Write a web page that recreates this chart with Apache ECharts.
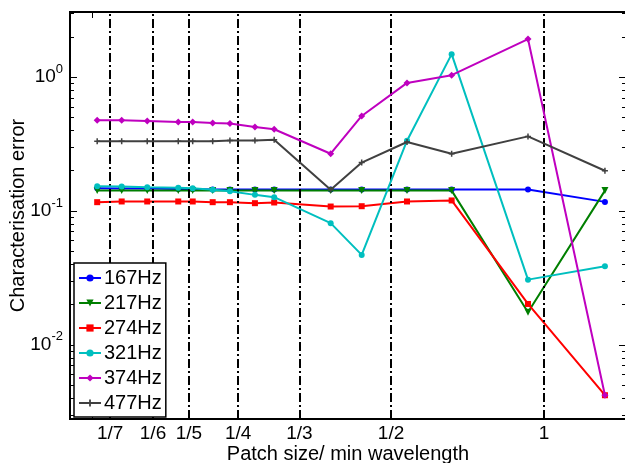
<!DOCTYPE html>
<html>
<head>
<meta charset="utf-8">
<script src="https://cdn.jsdelivr.net/npm/echarts@6/dist/echarts.min.js"></script>
<style>
  html, body { margin: 0; padding: 0; background: #fff; }
  #main { width: 625px; height: 463px; }
</style>
</head>
<body>
<div id="main"></div>
<script>
// patch size / min wavelength
const xs = [0.132, 0.1475, 0.1656, 0.1906, 0.2035, 0.2228, 0.2409, 0.2698, 0.2944, 0.3803, 0.4377, 0.5375, 0.658, 0.930, 1.318];

const names = ["167Hz", "217Hz", "274Hz", "321Hz", "374Hz", "477Hz"];
const err167 = [0.148, 0.147, 0.147, 0.146, 0.146, 0.145, 0.145, 0.145, 0.145, 0.145, 0.145, 0.145, 0.145, 0.145, 0.117];
const err217 = [0.142, 0.142, 0.142, 0.142, 0.142, 0.142, 0.142, 0.142, 0.142, 0.142, 0.142, 0.142, 0.142, 0.0175, 0.142];
const err274 = [0.1164, 0.1178, 0.1178, 0.1178, 0.1178, 0.1164, 0.1164, 0.1144, 0.1158, 0.108, 0.1086, 0.1178, 0.1199, 0.0202, 0.0042];
const err321 = [0.1534, 0.1526, 0.1508, 0.149, 0.148, 0.144, 0.1407, 0.132, 0.1269, 0.0811, 0.047, 0.335, 1.487, 0.0307, 0.0386];
const err374 = [0.476, 0.476, 0.471, 0.463, 0.463, 0.455, 0.45, 0.424, 0.408, 0.268, 0.513, 0.906, 1.035, 1.927, 0.0042];
const err477 = [0.332, 0.332, 0.332, 0.332, 0.332, 0.332, 0.337, 0.337, 0.341, 0.144, 0.23, 0.328, 0.268, 0.361, 0.2];

const xTicks = [1/7, 1/6, 1/5, 1/4, 1/3, 1/2, 1];
const xTickLabels = ["1/7", "1/6", "1/5", "1/4", "1/3", "1/2", "1"];
const xPlainTicks = [0.129];
const yMajor = [0.01, 0.1, 1];
const yMinor = [0.003, 0.004, 0.005, 0.006, 0.007, 0.008, 0.009,
  0.02, 0.03, 0.04, 0.05, 0.06, 0.07, 0.08, 0.09,
  0.2, 0.3, 0.4, 0.5, 0.6, 0.7, 0.8, 0.9, 2, 3];

const xMin = 0.1167, xMax = 1.45;
const yMin = 0.00279, yMax = 3.07;

const font = "'Liberation Sans', Arial, sans-serif";

var chartDom = document.getElementById("main");
var myChart = echarts.init(chartDom);

// tick lengths turned into factors on the log scales
const minorF = Math.pow(10, 4 / 508);
const majorF = Math.pow(10, 7 / 508);
const xTickF = Math.pow(10, 6 / 133.5);

const tickSegs = [];
yMinor.forEach(v => {
  tickSegs.push([{ coord: [xMin, v] }, { coord: [xMin * minorF, v] }]);
  tickSegs.push([{ coord: [xMax / minorF, v] }, { coord: [xMax, v] }]);
});
yMajor.forEach(v => {
  tickSegs.push([{ coord: [xMax / majorF, v] }, { coord: [xMax, v] }]);
});
xPlainTicks.forEach(v => {
  tickSegs.push([{ coord: [v, yMin] }, { coord: [v, yMin * xTickF] }]);
  tickSegs.push([{ coord: [v, yMax / xTickF] }, { coord: [v, yMax] }]);
});

const dashLines = xTicks.map((v, i) => ({ xAxis: v, name: xTickLabels[i] }));

function pairs(ys) {
  return xs.map((x, i) => [x, ys[i]]);
}

const plusPath = "path://M3,0H5V3H8V5H5V8H3V5H0V3H3Z";

const styles = [
  { color: "#0000ff", symbol: "circle", size: 6, rot: 0 },
  { color: "#007f00", symbol: "triangle", size: 7, rot: 180 },
  { color: "#ff0000", symbol: "rect", size: 6, rot: 0 },
  { color: "#00bfbf", symbol: "circle", size: 6, rot: 0 },
  { color: "#bf00bf", symbol: "diamond", size: 7, rot: 0 },
  { color: "#404040", symbol: plusPath, size: 6, rot: 0 },
];
const allErr = [err167, err217, err274, err321, err374, err477];

const series = names.map((n, i) => ({
  name: n,
  type: "line",
  data: pairs(allErr[i]),
  symbol: styles[i].symbol,
  symbolSize: styles[i].size,
  symbolRotate: styles[i].rot,
  color: styles[i].color,
  lineStyle: { width: 2 },
  z: 2 + i,
}));

series.push({
  name: "ticks",
  type: "line",
  data: [],
  z: 10,
  markLine: {
    silent: true,
    symbol: "none",
    animation: false,
    lineStyle: { color: "#000", width: 2, type: [9, 3, 2, 3] },
    label: {
      show: true,
      position: "start",
      distance: 5,
      formatter: "{b}",
      color: "#000",
      fontSize: 19,
      fontFamily: font,
    },
    data: dashLines,
  },
});

series.push({
  name: "minor",
  type: "line",
  data: [],
  z: 10,
  markLine: {
    silent: true,
    symbol: "none",
    animation: false,
    lineStyle: { color: "#000", width: 1, type: "solid" },
    label: { show: false },
    data: tickSegs,
  },
});

const option = {
  animation: false,
  backgroundColor: "#fff",
  grid: {
    left: 70,
    top: 12,
    right: -1,
    bottom: 44,
    containLabel: false,
    outerBoundsMode: "none",
    show: true,
    borderColor: "#000",
    borderWidth: 2,
    backgroundColor: "transparent",
  },
  legend: {
    data: names,
    orient: "vertical",
    left: 74,
    top: 263,
    z: 50,
    padding: [5, 4, 4, 4],
    itemGap: 5,
    itemWidth: 22,
    itemHeight: 9,
    backgroundColor: "#fff",
    borderColor: "#000",
    borderWidth: 1.5,
    borderRadius: 0,
    textStyle: { fontSize: 20, fontFamily: font, color: "#000", padding: [0, 0, 0, -2] },
  },
  xAxis: {
    type: "log",
    min: xMin,
    max: xMax,
    name: "Patch size/ min wavelength",
    nameLocation: "middle",
    nameGap: 25,
    nameMoveOverlap: false,
    nameTextStyle: { fontSize: 20, fontFamily: font, color: "#000" },
    axisLine: { show: false },
    axisTick: { show: false },
    axisLabel: { show: false },
    splitLine: { show: false },
    minorTick: { show: false },
  },
  yAxis: {
    type: "log",
    min: yMin,
    max: yMax,
    name: "Characterisation error",
    nameLocation: "middle",
    nameGap: 42,
    nameMoveOverlap: false,
    nameTextStyle: { fontSize: 20, fontFamily: font, color: "#000" },
    axisLine: { show: false },
    axisTick: { show: true, inside: true, length: 7, lineStyle: { color: "#000", width: 1 } },
    splitLine: { show: false },
    axisLabel: {
      showMinLabel: false,
      showMaxLabel: false,
      margin: 7,
      formatter: function (v) {
        var e = Math.round(Math.log10(v));
        return "{b|10}{s|" + e + "}";
      },
      rich: {
        b: { fontSize: 19, fontFamily: font, color: "#000" },
        s: { fontSize: 13, fontFamily: font, color: "#000", padding: [0, 0, 16, 0] },
      },
    },
  },
  series: series,
};

myChart.setOption(option);
window.addEventListener("resize", () => myChart.resize());
</script>
</body>
</html>
